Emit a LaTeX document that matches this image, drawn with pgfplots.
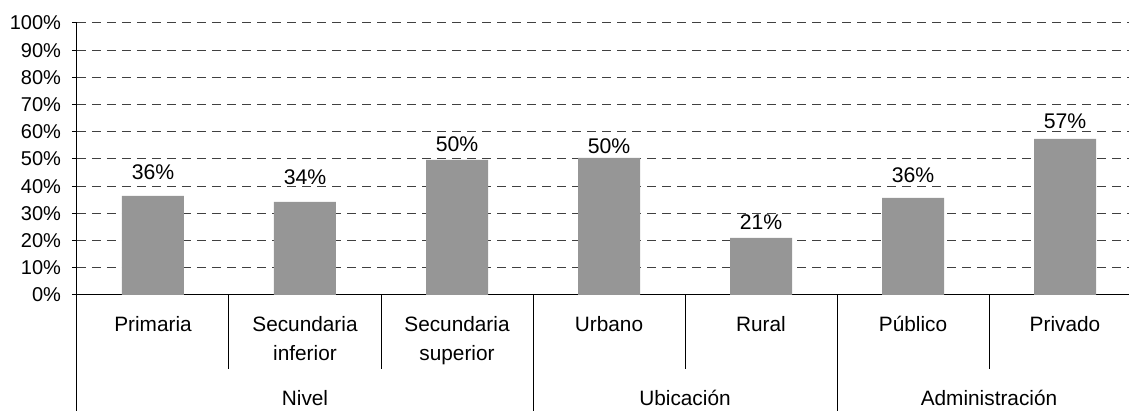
\documentclass[border=0pt]{standalone}
\usepackage{fontspec}
\setmainfont{Liberation Sans}
\usepackage{pgfplots}
\usepackage{pgfplotstable}
\pgfplotsset{compat=1.18}
\definecolor{bargray}{RGB}{150,150,150}

% x = category position, y = share, off = label lift above bar top (pt)
\pgfplotstableread{
x y off
0 36.4 12
1 34.2 12.5
2 49.7 8
3 50.4 6
4 21.0 8
5 35.7 11.5
6 57.4 9
}\datatable

\begin{document}
\begin{tikzpicture}[font=\fontsize{10}{12}\selectfont,
    lab/.style={anchor=base, font=\fontsize{10.4}{12}\selectfont}]
\begin{axis}[
    x=76pt, y=1.36pt,
    anchor=origin, at={(0,0)},
    xmin=-0.5, xmax=6.42,
    ymin=0, ymax=100,
    axis x line*=bottom,
    axis y line*=left,
    axis line style={black, line width=0.5pt},
    xtick=\empty,
    ytick={0,10,...,100},
    yticklabel={\pgfmathprintnumber[assume math mode=true]{\tick}\%},
    yticklabel style={xshift=-2pt},
    tick align=outside,
    major tick length=2.5pt,
    tick style={black, line width=0.5pt},
    ymajorgrids,
    grid style={black!75, line width=0.5pt, dash pattern=on 4.5pt off 3pt},
    clip=false,
]
\addplot[ybar, bar width=31pt, fill=bargray, draw=none,
    visualization depends on={\thisrow{off} \as \off},
    nodes near coords={\pgfmathprintnumber[fixed, precision=0, assume math mode=true]{\pgfplotspointmeta}\%},
    nodes near coords style={anchor=center, yshift=\off pt, font=\fontsize{10.6}{12}\selectfont},
] table[x=x, y=y] {\datatable};

% category dividers
\draw[black, line width=0.5pt] (axis cs:0.5,0) -- ([yshift=-37pt]axis cs:0.5,0);
\draw[black, line width=0.5pt] (axis cs:1.5,0) -- ([yshift=-37pt]axis cs:1.5,0);
\draw[black, line width=0.5pt] (axis cs:3.5,0) -- ([yshift=-37pt]axis cs:3.5,0);
\draw[black, line width=0.5pt] (axis cs:5.5,0) -- ([yshift=-37pt]axis cs:5.5,0);
% group dividers
\draw[black, line width=0.5pt] (axis cs:-0.5,0) -- ([yshift=-62pt]axis cs:-0.5,0);
\draw[black, line width=0.5pt] (axis cs:2.5,0) -- ([yshift=-62pt]axis cs:2.5,0);
\draw[black, line width=0.5pt] (axis cs:4.5,0) -- ([yshift=-62pt]axis cs:4.5,0);

% category labels
\node[lab] at ([yshift=-18.5pt]axis cs:0,0) {Primaria};
\node[lab] at ([yshift=-18.5pt]axis cs:1,0) {Secundaria};
\node[lab] at ([yshift=-32.8pt]axis cs:1,0) {inferior};
\node[lab] at ([yshift=-18.5pt]axis cs:2,0) {Secundaria};
\node[lab] at ([yshift=-32.8pt]axis cs:2,0) {superior};
\node[lab] at ([yshift=-18.5pt]axis cs:3,0) {Urbano};
\node[lab] at ([yshift=-18.5pt]axis cs:4,0) {Rural};
\node[lab] at ([yshift=-18.5pt]axis cs:5,0) {Público};
\node[lab] at ([yshift=-18.5pt]axis cs:6,0) {Privado};
% group labels
\node[lab] at ([yshift=-55.3pt]axis cs:1,0) {Nivel};
\node[lab] at ([yshift=-55.3pt]axis cs:3.5,0) {Ubicación};
\node[lab] at ([yshift=-55.3pt]axis cs:5.5,0) {Administración};
\end{axis}
\pgfresetboundingbox
\useasboundingbox (-76.5pt,-58pt) rectangle (488pt,147.5pt);
\end{tikzpicture}
\end{document}
